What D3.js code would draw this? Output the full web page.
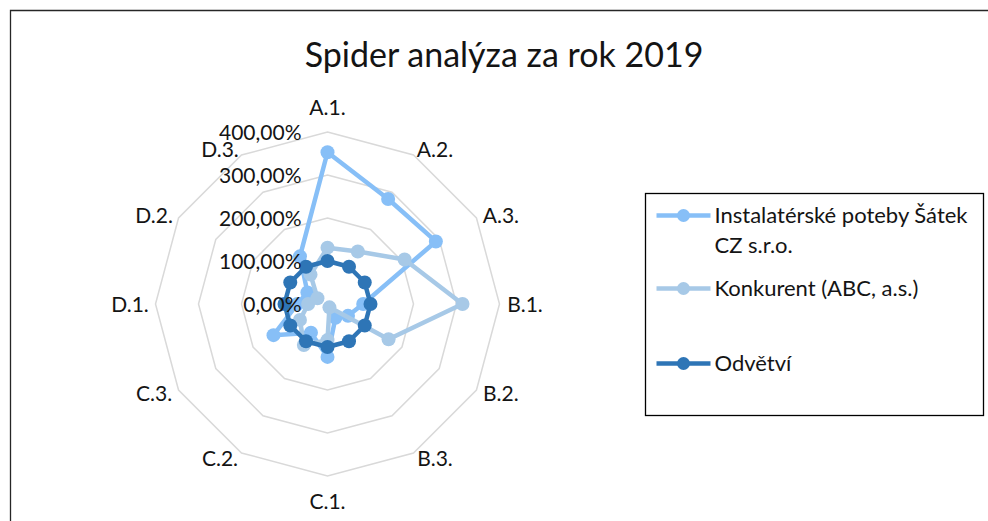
<!DOCTYPE html>
<html>
<head>
<meta charset="utf-8">
<script src="https://cdn.jsdelivr.net/npm/d3@7"></script>
<style>
	html, body { margin: 0; padding: 0; background: #fff; }
	#chart { width: 988px; height: 521px; }
	text { font-family: Lato, "Open Sans", sans-serif; fill: #141414; }
</style>
</head>
<body>
<div id="chart"></div>
<script>
// kategorie (osy pavouka)
const categories = ['A.1.', 'A.2.', 'A.3.', 'B.1.', 'B.2.', 'B.3.', 'C.1.', 'C.2.', 'C.3.', 'D.1.', 'D.2.', 'D.3.'];

const seriesNames = ['Instalatérské poteby Šátek CZ s.r.o.', 'Konkurent (ABC, a.s.)', 'Odvětví'];
const seriesColors = ['#87bff7', '#a7c9e7', '#2e75b6'];

// hodnoty (1 = 100 %)
const firma = [3.53, 2.82, 2.91, 0.83, 0.55, 0.37, 1.23, 0.77, 1.45, 0.70, 0.54, 1.28];
const konkurent = [1.31, 1.41, 2.07, 3.14, 1.64, 0.09, 0.84, 1.10, 0.74, 0.45, 0.27, 0.79];
const odvetvi = [1, 1, 1, 1, 1, 1, 1, 1, 1, 1, 1, 1];

const tickValues = [0, 1, 2, 3, 4];

const series = [firma, konkurent, odvetvi];

const width = 988;
const height = 521;
const cx = 327.5;
const cy = 304;
const outerRadius = 172;

const cz = d3.formatLocale({decimal: ',', thousands: ' ', grouping: [3], currency: ['', ' Kč'], percent: '%'});
const pct = cz.format('.2%');

const svg = d3.select('#chart').append('svg')
	.attr('width', width)
	.attr('height', height);

// ramecek grafu
svg.append('path')
	.attr('d', 'M10.5,' + height + 'V10.5H' + width)
	.attr('fill', 'none')
	.attr('stroke', '#262626')
	.attr('stroke-width', 1.3);

svg.append('text')
	.attr('x', 504)
	.attr('y', 67)
	.attr('text-anchor', 'middle')
	.attr('font-size', 34)
	.text('Spider analýza za rok 2019');

const rScale = d3.scaleLinear()
	.domain([0, d3.max(tickValues)])
	.range([0, outerRadius]);

const angle = d3.scaleLinear()
	.domain([0, categories.length])
	.range([0, 2 * Math.PI]);

const g = svg.append('g')
	.attr('transform', 'translate(' + cx + ',' + cy + ')');

const radial = d3.lineRadial()
	.angle((d, i) => angle(i))
	.radius(d => rScale(d))
	.curve(d3.curveLinearClosed);

// mrizka
g.selectAll('.grid')
	.data(tickValues.filter(t => t > 0))
	.enter().append('path')
	.attr('class', 'grid')
	.attr('d', t => radial(categories.map(() => t)))
	.attr('fill', 'none')
	.attr('stroke', '#d9d9d9')
	.attr('stroke-width', 1.5);

// popisky kategorii
g.selectAll('.cat')
	.data(categories)
	.enter().append('text')
	.attr('class', 'cat')
	.attr('x', (d, i) => {
		const s = Math.sin(angle(i));
		return Math.abs(s) < 0.01 ? 0 : 180 * s + 17.5 * Math.sign(s);
	})
	.attr('y', (d, i) => {
		const c = Math.cos(angle(i));
		return -178 * c - (Math.abs(c) > 0.99 ? 19 * Math.sign(c) : 0);
	})
	.attr('dy', '0.36em')
	.attr('text-anchor', 'middle')
	.attr('font-size', 21)
	.text(d => d);

// serie
const serieG = g.selectAll('.serie')
	.data(series)
	.enter().append('g')
	.attr('class', 'serie');

serieG.append('path')
	.attr('d', d => radial(d))
	.attr('fill', 'none')
	.attr('stroke', (d, i) => seriesColors[i])
	.attr('stroke-width', 4.5)
	.attr('stroke-linejoin', 'round');

serieG.each(function(d, si) {
	d3.select(this).selectAll('circle')
		.data(d)
		.enter().append('circle')
		.attr('cx', (v, i) => rScale(v) * Math.sin(angle(i)))
		.attr('cy', (v, i) => -rScale(v) * Math.cos(angle(i)))
		.attr('r', 7)
		.attr('fill', seriesColors[si]);
});

// popisky osy hodnot
g.selectAll('.tick')
	.data(tickValues)
	.enter().append('text')
	.attr('class', 'tick')
	.attr('x', -26)
	.attr('y', t => -rScale(t))
	.attr('dy', '0.36em')
	.attr('text-anchor', 'end')
	.attr('font-size', 21)
	.text(t => pct(t));

// legenda
const legend = svg.append('g')
	.attr('transform', 'translate(645.5,193.5)');

legend.append('rect')
	.attr('width', 338)
	.attr('height', 222)
	.attr('fill', '#fff')
	.attr('stroke', '#000')
	.attr('stroke-width', 1.3);

const legendRows = [22, 95, 170];
const legendLines = [['Instalatérské poteby Šátek', 'CZ s.r.o.'], ['Konkurent (ABC, a.s.)'], ['Odvětví']];

const item = legend.selectAll('.item')
	.data(seriesNames)
	.enter().append('g')
	.attr('class', 'item')
	.attr('transform', (d, i) => 'translate(0,' + legendRows[i] + ')');

item.append('line')
	.attr('x1', 11)
	.attr('x2', 65)
	.attr('stroke', (d, i) => seriesColors[i])
	.attr('stroke-width', 4.5);

item.append('circle')
	.attr('cx', 38)
	.attr('r', 6.5)
	.attr('fill', (d, i) => seriesColors[i]);

item.append('text')
	.attr('x', 69)
	.attr('font-size', 22)
	.selectAll('tspan')
	.data((d, i) => legendLines[i])
	.enter().append('tspan')
	.attr('x', 69)
	.attr('y', (d, j) => j * 30)
	.attr('dy', '0.36em')
	.text(d => d);
</script>
</body>
</html>
